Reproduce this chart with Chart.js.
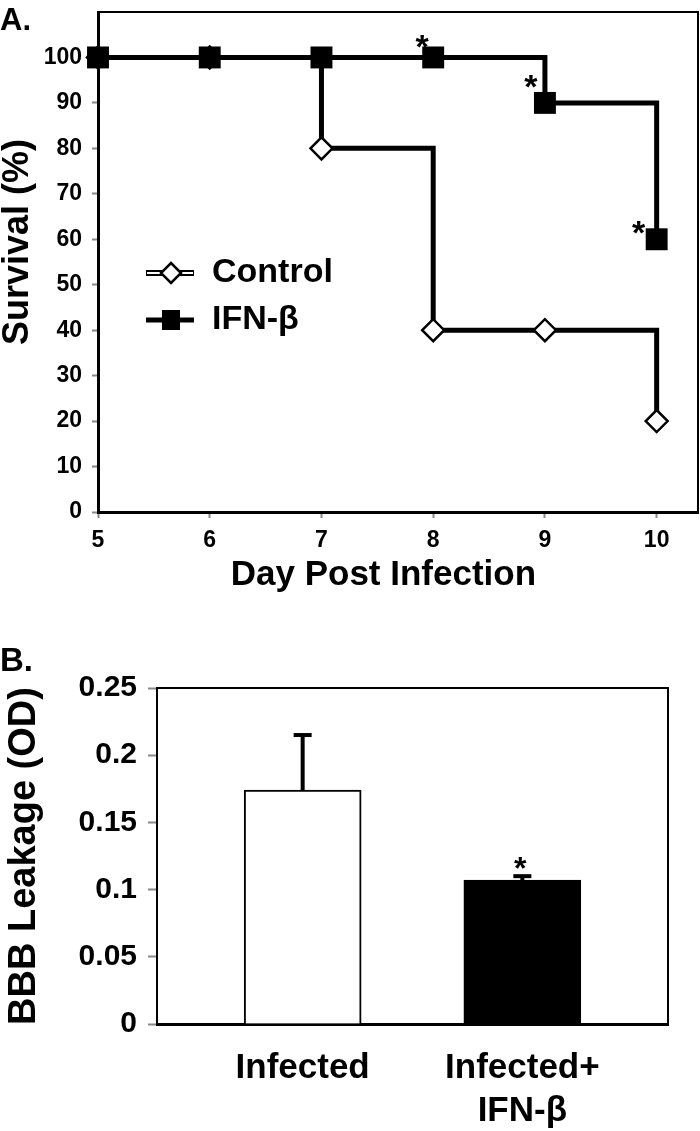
<!DOCTYPE html>
<html>
<head>
<meta charset="utf-8">
<script src="https://cdn.jsdelivr.net/npm/chart.js@4.4.1/dist/chart.umd.min.js"></script>
<style>
  html, body { margin: 0; padding: 0; background: #fff; overflow: hidden; }
  #wrap { position: relative; width: 700px; height: 1131px; overflow: hidden; }
  canvas { position: absolute; left: 0; }
  #chartA { top: -4px; }
  #chartB { top: 630px; }
</style>
</head>
<body>
<div id="wrap">
  <canvas id="chartA" width="716" height="604"></canvas>
  <canvas id="chartB" width="700" height="501"></canvas>
</div>
<script>
// ---- Panel A: survival ----
const days = [5, 6, 7, 8, 9, 10];
const controlSurvival = [100, 100, 80, 40, 40, 20];
const ifnSurvival = [100, 100, 100, 100, 90, 60];
const starDays = [8, 9, 10];
const starSurvival = [100, 90, 60];

// ---- Panel B: BBB leakage ----
const groups = ['Infected', ['Infected+', 'IFN-β']];
const leakMean = [0.174, 0.107];
const leakErr = [0.041, 0.003];
const starGroups = [2];

const FONT = "'Liberation Sans', Arial, Helvetica, sans-serif";
Chart.defaults.font.family = FONT;
Chart.defaults.color = '#000';

// asterisk offsets (px) from the marker centre, same order as starDays
const STAR_OFFSETS_A = [[-11, -19], [-14, -25], [-18, -15]];

function drawStar(ctx, x, y, size) {
  // '*' glyph sits high in the em box; centre it on (x, y)
  ctx.save();
  ctx.font = 'bold ' + size + 'px ' + FONT;
  ctx.fillStyle = '#000';
  ctx.textAlign = 'center';
  ctx.textBaseline = 'alphabetic';
  ctx.fillText('*', x, y + size * 0.58);
  ctx.restore();
}

function drawFrame(ctx, area) {
  ctx.save();
  ctx.strokeStyle = '#000';
  ctx.lineWidth = 2;
  ctx.beginPath();
  ctx.moveTo(area.left, area.top);
  ctx.lineTo(area.right, area.top);
  ctx.lineTo(area.right, area.bottom);
  ctx.stroke();
  ctx.restore();
}

// tick-label padding would otherwise push the plot box around
function noScalePadding(s) {
  s.paddingTop = 0;
  s.paddingBottom = 0;
}

const panelA = {
  id: 'panelA',
  beforeDatasetsDraw(chart) {
    drawFrame(chart.ctx, chart.chartArea);
  },
  afterDraw(chart) {
    const ctx = chart.ctx;
    const xs = chart.scales.x, ys = chart.scales.y;
    // canvas A sits 4px above the page top
    const dy = 4;

    ctx.save();
    ctx.fillStyle = '#000';
    ctx.font = 'bold 31px ' + FONT;
    ctx.textBaseline = 'alphabetic';
    ctx.fillText('A.', 0, 30 + dy);

    // legend
    const lx0 = 146, lx1 = 194, mx = 171;
    // Control: outlined line + open diamond
    let y = 273 + dy;
    ctx.strokeStyle = '#000';
    ctx.lineWidth = 6;
    ctx.beginPath(); ctx.moveTo(lx0, y); ctx.lineTo(lx1, y); ctx.stroke();
    ctx.strokeStyle = '#fff';
    ctx.lineWidth = 2;
    ctx.beginPath(); ctx.moveTo(lx0 + 1, y); ctx.lineTo(lx1 - 1, y); ctx.stroke();
    ctx.beginPath();
    ctx.moveTo(mx, y - 10); ctx.lineTo(mx + 10, y); ctx.lineTo(mx, y + 10); ctx.lineTo(mx - 10, y);
    ctx.closePath();
    ctx.fillStyle = '#fff'; ctx.fill();
    ctx.strokeStyle = '#000'; ctx.lineWidth = 2.5; ctx.stroke();
    // IFN-β: solid line + filled square
    y = 320 + dy;
    ctx.lineWidth = 5;
    ctx.beginPath(); ctx.moveTo(lx0, y); ctx.lineTo(lx1, y); ctx.stroke();
    ctx.fillStyle = '#000';
    ctx.fillRect(mx - 9, y - 10, 18, 20);

    ctx.font = 'bold 34px ' + FONT;
    ctx.textBaseline = 'middle';
    ctx.fillText('Control', 212, 273 + dy);
    ctx.fillText('IFN-β', 212, 320 + dy);
    ctx.restore();

    starDays.forEach((d, i) => {
      const off = STAR_OFFSETS_A[i];
      drawStar(ctx, xs.getPixelForValue(d) + off[0], ys.getPixelForValue(starSurvival[i]) + off[1], 34);
    });
  }
};

new Chart(document.getElementById('chartA'), {
  type: 'line',
  data: {
    datasets: [
      {
        label: 'IFN-β',
        data: days.map((d, i) => ({ x: d, y: ifnSurvival[i] })),
        borderColor: '#000',
        borderWidth: 5,
        stepped: 'before',
        pointStyle: 'rect',
        pointRadius: 15.5,
        pointBackgroundColor: '#000',
        pointBorderColor: '#000',
        pointBorderWidth: 0,
        clip: false,
        order: 0
      },
      {
        label: 'Control',
        data: days.map((d, i) => ({ x: d, y: controlSurvival[i] })),
        borderColor: '#000',
        borderWidth: 5,
        stepped: 'before',
        pointStyle: 'rectRot',
        pointRadius: 11,
        pointBackgroundColor: '#fff',
        pointBorderColor: '#000',
        pointBorderWidth: 2.5,
        clip: false,
        order: 1
      }
    ]
  },
  options: {
    responsive: false,
    animation: false,
    events: [],
    layout: { padding: { top: 16, right: 18, left: 0, bottom: 0 } },
    plugins: { legend: { display: false }, tooltip: { enabled: false } },
    scales: {
      x: {
        type: 'linear',
        min: 5,
        max: 10.37,
        afterFit: s => { s.height = 88; },
        ticks: { stepSize: 1, includeBounds: false, color: '#000', padding: 9, font: { size: 23, weight: 'bold' } },
        grid: { drawOnChartArea: false, tickLength: 6, color: '#888', tickWidth: 2 },
        border: { color: '#000', width: 3 },
        // trailing spaces nudge the centred title a little left, as in the figure
        title: { display: true, text: 'Day Post Infection   ', color: '#000', padding: { top: 0, bottom: 4 }, font: { size: 35, weight: 'bold', lineHeight: 1.2 } }
      },
      y: {
        min: 0,
        max: 110,
        afterFit: s => { s.width = 98; noScalePadding(s); },
        afterBuildTicks: s => { s.ticks = s.ticks.filter(t => t.value <= 100); },
        ticks: { stepSize: 10, includeBounds: false, color: '#000', padding: 10, font: { size: 23, weight: 'bold' } },
        grid: { drawOnChartArea: false, tickLength: 6, color: '#888', tickWidth: 2 },
        border: { color: '#000', width: 3 },
        // leading spaces lift the title above the axis centre
        title: { display: true, text: '    Survival (%)', color: '#000', padding: { top: 0, bottom: 0 }, font: { size: 36, weight: 'bold', lineHeight: 1 } }
      }
    }
  },
  plugins: [panelA]
});

const panelB = {
  id: 'panelB',
  beforeDatasetsDraw(chart) {
    drawFrame(chart.ctx, chart.chartArea);
  },
  afterDatasetsDraw(chart) {
    const ctx = chart.ctx;
    const xs = chart.scales.x, ys = chart.scales.y;
    ctx.save();
    ctx.strokeStyle = '#000';
    ctx.lineCap = 'butt';
    leakMean.forEach((m, i) => {
      const x = xs.getPixelForValue(i + 1);
      const y0 = ys.getPixelForValue(m);
      const y1 = ys.getPixelForValue(m + leakErr[i]);
      ctx.lineWidth = 4;
      ctx.beginPath(); ctx.moveTo(x, y0); ctx.lineTo(x, y1); ctx.stroke();
      ctx.beginPath(); ctx.moveTo(x - 9, y1); ctx.lineTo(x + 9, y1); ctx.stroke();
    });
    ctx.restore();

    starGroups.forEach(g => {
      const i = g - 1;
      drawStar(ctx, xs.getPixelForValue(g) - 2, ys.getPixelForValue(leakMean[i] + leakErr[i]) - 16, 32);
    });

    ctx.save();
    ctx.fillStyle = '#000';
    ctx.font = 'bold 33px ' + FONT;
    ctx.textBaseline = 'alphabetic';
    ctx.fillText('B.', 0, 41);
    ctx.restore();
  }
};

new Chart(document.getElementById('chartB'), {
  type: 'bar',
  data: {
    datasets: [{
      data: leakMean.map((v, i) => ({ x: i + 1, y: v })),
      backgroundColor: ['#fff', '#000'],
      borderColor: '#000',
      borderWidth: 2,
      barThickness: 117
    }]
  },
  options: {
    responsive: false,
    animation: false,
    events: [],
    layout: { padding: { top: 58, right: 32, left: 0, bottom: 0 } },
    plugins: { legend: { display: false }, tooltip: { enabled: false } },
    scales: {
      x: {
        type: 'linear',
        offset: false,
        min: 0.337,
        max: 2.663,
        afterFit: s => { s.height = 107; },
        afterBuildTicks: s => { s.ticks = groups.map((g, i) => ({ value: i + 1 })); },
        ticks: {
          callback: v => groups[v - 1],
          color: '#000',
          padding: 23,
          maxRotation: 0,
          autoSkip: false,
          font: { size: 35, weight: 'bold', lineHeight: 1.23 }
        },
        grid: { drawOnChartArea: false, drawTicks: false, offset: false },
        border: { color: '#000', width: 3 }
      },
      y: {
        min: 0,
        max: 0.25,
        afterFit: s => { s.width = 157; noScalePadding(s); },
        ticks: {
          stepSize: 0.05,
          callback: v => String(+v.toFixed(2)),
          color: '#000',
          padding: 11,
          font: { size: 30, weight: 'bold' }
        },
        grid: { drawOnChartArea: false, tickLength: 9, color: '#888', tickWidth: 2 },
        border: { color: '#000', width: 2 },
        title: { display: true, text: 'BBB Leakage (OD)', color: '#000', padding: { top: 6, bottom: 0 }, font: { size: 38, weight: 'bold', lineHeight: 1 } }
      }
    }
  },
  plugins: [panelB]
});
</script>
</body>
</html>
